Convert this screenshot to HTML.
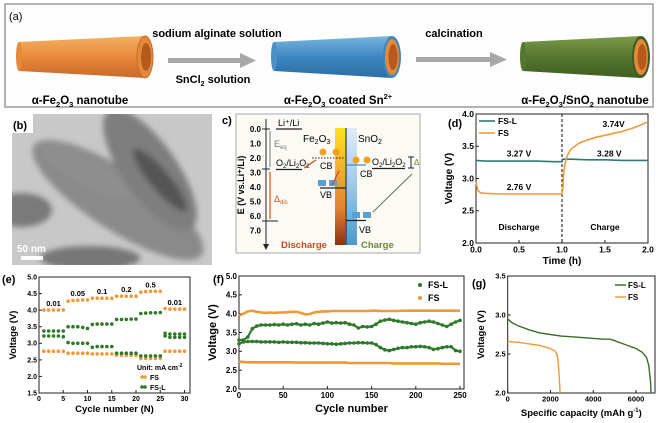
<!DOCTYPE html>
<html><head><meta charset="utf-8"><style>
html,body{margin:0;padding:0;background:#fff;}
svg{display:block;font-family:"Liberation Sans",Arial,sans-serif;}
</style></head><body>
<svg id="fig" width="659" height="423" viewBox="0 0 659 423" xmlns="http://www.w3.org/2000/svg">
<defs>
<linearGradient id="gOr" x1="0" y1="0" x2="0" y2="1"><stop offset="0" stop-color="#f4b060"/><stop offset="0.5" stop-color="#e98a3c"/><stop offset="1" stop-color="#c9692a"/></linearGradient>
<linearGradient id="gBl" x1="0" y1="0" x2="0" y2="1"><stop offset="0" stop-color="#79b6e0"/><stop offset="0.5" stop-color="#3d86c0"/><stop offset="1" stop-color="#2a6ea5"/></linearGradient>
<linearGradient id="gGr" x1="0" y1="0" x2="0" y2="1"><stop offset="0" stop-color="#7a9b4a"/><stop offset="0.5" stop-color="#55762e"/><stop offset="1" stop-color="#3f5e22"/></linearGradient>
<linearGradient id="gFe" x1="0" y1="0" x2="0" y2="1"><stop offset="0" stop-color="#ffe21a"/><stop offset="0.3" stop-color="#f5b530"/><stop offset="0.7" stop-color="#e08030"/><stop offset="1" stop-color="#8a3010"/></linearGradient>
<linearGradient id="gSn" x1="0" y1="0" x2="0" y2="1"><stop offset="0" stop-color="#e2eef5"/><stop offset="0.5" stop-color="#9cc8e4"/><stop offset="1" stop-color="#4d97cc"/></linearGradient>
<filter id="blur"><feGaussianBlur stdDeviation="3"/></filter>
</defs>

<!-- Panel a -->
<g>
<rect x="5" y="4" width="648" height="103" fill="#fdfdfd" stroke="#9a9a9a" stroke-width="1.5"/>
<text x="9" y="20" font-size="11" fill="#000">(a)</text>
<g>
<path d="M19,42 L145,36 L145,78 L19,71 Z" fill="url(#gOr)"/>
<ellipse cx="19" cy="56.5" rx="3" ry="14.5" fill="#e48a3a"/>
<ellipse cx="145" cy="57" rx="8" ry="21" fill="#e28a3a" stroke="#c86a25"/>
<ellipse cx="146" cy="57" rx="5" ry="14" fill="#b65a1c"/>
</g>
<g><rect x="168" y="58" width="72" height="5" fill="#a8a8a8"/><polygon points="240,53 256,60.5 240,68" fill="#a8a8a8"/></g>
<text x="217" y="37" font-size="11" font-weight="bold" text-anchor="middle">sodium alginate solution</text>
<text x="213" y="83" font-size="11" font-weight="bold" text-anchor="middle">SnCl<tspan font-size="7" dy="3">2</tspan><tspan dy="-3"> solution</tspan></text>
<g>
<path d="M274,42 L392,36 L392,78 L274,71 Z" fill="url(#gBl)"/>
<ellipse cx="274" cy="56.5" rx="3" ry="14.5" fill="#4b8fc4"/>
<ellipse cx="392" cy="57" rx="9" ry="21" fill="#3f86be"/>
<ellipse cx="392" cy="57" rx="7" ry="18" fill="#e58a3a"/>
<ellipse cx="393" cy="57" rx="4.5" ry="13" fill="#b65a1c"/>
</g>
<g><rect x="416" y="57" width="75" height="5" fill="#a8a8a8"/><polygon points="490,52 507,59.5 490,67" fill="#a8a8a8"/></g>
<text x="454" y="37" font-size="11" font-weight="bold" text-anchor="middle">calcination</text>
<g>
<path d="M523,42 L641,36 L641,78 L523,71 Z" fill="url(#gGr)"/>
<ellipse cx="523" cy="56.5" rx="3" ry="14.5" fill="#55762e"/>
<ellipse cx="641" cy="57" rx="9" ry="21" fill="#3e5e20"/>
<ellipse cx="641" cy="57" rx="7" ry="18" fill="#e58a3a"/>
<ellipse cx="642" cy="57" rx="4.5" ry="13" fill="#b65a1c"/>
</g>
<text x="80" y="104" font-size="11.5" font-weight="bold" text-anchor="middle">α-Fe<tspan font-size="7.5" dy="3">2</tspan><tspan dy="-3">O</tspan><tspan font-size="7.5" dy="3">3</tspan><tspan dy="-3"> nanotube</tspan></text>
<text x="338" y="104" font-size="11.5" font-weight="bold" text-anchor="middle">α-Fe<tspan font-size="7.5" dy="3">2</tspan><tspan dy="-3">O</tspan><tspan font-size="7.5" dy="3">3</tspan><tspan dy="-3"> coated Sn</tspan><tspan font-size="7.5" dy="-5">2+</tspan></text>
<text x="585" y="104" font-size="11.5" font-weight="bold" text-anchor="middle">α-Fe<tspan font-size="7.5" dy="3">2</tspan><tspan dy="-3">O</tspan><tspan font-size="7.5" dy="3">3</tspan><tspan dy="-3">/SnO</tspan><tspan font-size="7.5" dy="3">2</tspan><tspan dy="-3"> nanotube</tspan></text>
</g>

<!-- Panel b TEM -->
<g>
<clipPath id="clipB"><rect x="12" y="114" width="200" height="151"/></clipPath>
<rect x="12" y="114" width="200" height="151" fill="#c8c8c8"/>
<g clip-path="url(#clipB)" filter="url(#blur)">
<ellipse cx="118" cy="200" rx="100" ry="30" fill="#8a8a8a" transform="rotate(33 118 200)"/>
<ellipse cx="150" cy="170" rx="72" ry="27" fill="#7e7e7e" transform="rotate(55 150 170)"/>
<ellipse cx="160" cy="180" rx="40" ry="10" fill="#555" transform="rotate(50 160 180)"/>
<ellipse cx="22" cy="210" rx="30" ry="17" fill="#7a7a7a"/>
<ellipse cx="90" cy="258" rx="50" ry="12" fill="#777"/>
<ellipse cx="85" cy="170" rx="50" ry="14" fill="#8e8e8e" transform="rotate(30 85 170)"/>
</g>
<rect x="12" y="114" width="21" height="19" fill="#fff"/>
<text x="13" y="129" font-size="11" font-weight="bold">(b)</text>
<text x="17" y="252" font-size="10" font-weight="bold" fill="#fff">50 nm</text>
<rect x="21" y="256" width="22" height="4" fill="#fff"/>
</g>

<!-- Panel c band diagram -->
<g font-size="9">
<rect x="236" y="114" width="184" height="139" fill="#fbfaf5" stroke="#aaa"/>
<text x="222" y="124" font-size="11" font-weight="bold">c)</text>
<line x1="266" y1="119" x2="266" y2="246" stroke="#222" stroke-width="1"/>
<polygon points="263,244 266,250 269,244" fill="#222"/>
<g font-size="8" font-weight="bold" text-anchor="end">
<text x="261" y="132">0.0</text><text x="261" y="146.5">1.0</text><text x="261" y="161">2.0</text><text x="261" y="175.5">3.0</text><text x="261" y="190">4.0</text><text x="261" y="204.5">5.0</text><text x="261" y="219">6.0</text><text x="261" y="233.5">7.0</text>
</g>
<g stroke="#222"><line x1="262" y1="129" x2="270" y2="129"/><line x1="262" y1="169" x2="270" y2="169"/><line x1="262" y1="221" x2="278" y2="221"/></g>
<text x="244" y="185" font-size="9" font-weight="bold" transform="rotate(-90 244 185)" text-anchor="middle">E (V vs.Li⁺/Li)</text>
<line x1="270" y1="131" x2="270" y2="167" stroke="#777"/>
<line x1="270" y1="172" x2="270" y2="219" stroke="#d0581c" stroke-width="1.2"/>
<text x="274" y="147" fill="#777" font-size="9">E<tspan font-size="6" dy="2">eq</tspan></text>
<text x="274" y="202" fill="#d0581c" font-size="9">Δ<tspan font-size="6" dy="2">dis</tspan></text>
<line x1="276" y1="129" x2="302" y2="129" stroke="#222" stroke-width="1.3"/>
<text x="278" y="126">Li⁺/Li</text>
<line x1="276" y1="169.5" x2="302" y2="169.5" stroke="#222" stroke-width="1.3"/>
<text x="276" y="166">O<tspan font-size="6" dy="2">2</tspan><tspan dy="-2">/Li</tspan><tspan font-size="6" dy="2">2</tspan><tspan dy="-2">O</tspan><tspan font-size="6" dy="2">2</tspan></text>
<text x="303" y="142" font-size="10">Fe<tspan font-size="7" dy="2">2</tspan><tspan dy="-2">O</tspan><tspan font-size="7" dy="2">3</tspan></text>
<text x="358" y="142" font-size="10">SnO<tspan font-size="7" dy="2">2</tspan></text>
<rect x="335" y="128" width="10" height="117" fill="url(#gFe)"/>
<rect x="345" y="128" width="12" height="117" fill="url(#gSn)"/>
<line x1="346" y1="128" x2="346" y2="245" stroke="#333" stroke-width="1.2"/>
<line x1="312" y1="158" x2="345" y2="158" stroke="#222" stroke-dasharray="1.5,1.5"/>
<text x="320" y="169" font-size="9">CB</text>
<circle cx="323" cy="152" r="3.5" fill="#f0a020"/><circle cx="336" cy="152" r="3.5" fill="#f0a020"/>
<line x1="320" y1="188" x2="346" y2="188" stroke="#222" stroke-width="1.3"/>
<text x="320" y="198" font-size="9">VB</text>
<rect x="318" y="180" width="8" height="6" fill="#5aa0d0"/><rect x="329" y="180" width="8" height="6" fill="#5aa0d0"/>
<line x1="346" y1="165" x2="366" y2="165" stroke="#4a8ab8" stroke-width="1.3"/>
<text x="360" y="177" font-size="9">CB</text>
<circle cx="356" cy="160" r="3.5" fill="#f0a020"/><circle cx="367" cy="160" r="3.5" fill="#f0a020"/>
<line x1="346" y1="220.5" x2="366" y2="220.5" stroke="#222" stroke-width="1.3"/>
<text x="359" y="233" font-size="9">VB</text>
<rect x="352" y="212" width="8" height="6" fill="#5aa0d0"/><rect x="363" y="212" width="8" height="6" fill="#5aa0d0"/>
<line x1="372" y1="168.5" x2="405" y2="168.5" stroke="#222" stroke-width="1.3"/>
<text x="372" y="165">O<tspan font-size="6" dy="2">2</tspan><tspan dy="-2">/Li</tspan><tspan font-size="6" dy="2">2</tspan><tspan dy="-2">O</tspan><tspan font-size="6" dy="2">2</tspan></text>
<line x1="411" y1="157" x2="411" y2="168" stroke="#222"/>
<line x1="408" y1="157" x2="414" y2="157" stroke="#222"/><line x1="408" y1="168" x2="414" y2="168" stroke="#222"/>
<text x="414" y="165" fill="#6a8a3a" font-size="8">Δ</text>
<line x1="412" y1="174" x2="373" y2="212" stroke="#6a7050"/>
<line x1="316" y1="160" x2="304" y2="168" stroke="#c8501c" stroke-width="1.3"/>
<line x1="339" y1="171" x2="332" y2="185" stroke="#c8501c" stroke-width="1.3"/>
<text x="281" y="248" font-size="9.5" font-weight="bold" fill="#c0501e">Discharge</text>
<text x="361" y="248" font-size="9.5" font-weight="bold" fill="#6a8a3a">Charge</text>
</g>

<g id="charts"></g>
</svg>
<script>
// ---------- data ----------
// (d) voltage vs time
const dFSLTime = [0, 0.1, 0.3, 0.5, 0.7, 0.9, 1.0, 1.01, 1.1, 1.3, 1.5, 1.7, 1.9, 2.0];
const dFSLVolt = [3.28, 3.27, 3.27, 3.27, 3.27, 3.26, 3.26, 3.30, 3.30, 3.29, 3.29, 3.28, 3.28, 3.28];
const dFSTime = [0, 0.02, 0.05, 0.1, 0.3, 0.5, 0.7, 0.9, 1.0, 1.01, 1.02, 1.04, 1.06, 1.1, 1.2, 1.3, 1.4, 1.5, 1.6, 1.7, 1.8, 1.9, 2.0];
const dFSVolt = [2.95, 2.82, 2.78, 2.77, 2.76, 2.76, 2.76, 2.76, 2.76, 2.85, 3.1, 3.25, 3.35, 3.45, 3.55, 3.6, 3.64, 3.67, 3.7, 3.73, 3.77, 3.82, 3.88];
const dXTicks = [0, 0.5, 1.0, 1.5, 2.0];
const dYTicks = [2.0, 2.5, 3.0, 3.5, 4.0];
// (e) rate capability
const eCycles = [1,2,3,4,5,6,7,8,9,10,11,12,13,14,15,16,17,18,19,20,21,22,23,24,25,26,27,28,29,30];
const eFSCharge = [4.0,4.0,4.0,4.0,4.0,4.27,4.29,4.3,4.31,4.31,4.36,4.36,4.36,4.36,4.36,4.42,4.42,4.42,4.42,4.42,4.54,4.56,4.57,4.57,4.57,4.05,4.03,4.03,4.03,4.03];
const eFSDischarge = [2.76,2.76,2.76,2.76,2.76,2.7,2.7,2.7,2.7,2.7,2.68,2.68,2.68,2.68,2.68,2.64,2.64,2.64,2.64,2.64,2.54,2.54,2.54,2.54,2.54,2.76,2.76,2.76,2.76,2.76];
const eFSLCharge = [3.37,3.37,3.37,3.37,3.37,3.5,3.5,3.5,3.48,3.45,3.57,3.58,3.58,3.58,3.58,3.72,3.72,3.72,3.73,3.73,3.9,3.91,3.92,3.92,3.93,3.3,3.28,3.28,3.28,3.28];
const eFSLDischarge = [3.22,3.22,3.22,3.22,3.2,3.02,3.0,3.0,3.0,3.0,2.88,2.9,2.9,2.9,2.9,2.7,2.7,2.7,2.7,2.7,2.62,2.62,2.62,2.62,2.62,3.22,3.18,3.18,3.18,3.18];
const eRates = ["0.01","0.05","0.1","0.2","0.5","0.01"];
const eRateX = [3, 8, 13, 18, 23, 28];
const eRateY = [4.12, 4.42, 4.49, 4.55, 4.68, 4.16];
const eXTicks = [0,5,10,15,20,25,30];
const eYTicks = [1.5,2.0,2.5,3.0,3.5,4.0,4.5,5.0];
// (f) cycling (every 5 cycles)
const fCycles = [0,5,10,15,20,25,30,35,40,45,50,55,60,65,70,75,80,85,90,95,100,105,110,115,120,125,130,135,140,145,150,155,160,165,170,175,180,185,190,195,200,205,210,215,220,225,230,235,240,245,250];
const fFSCharge = [3.95,4.0,4.06,4.08,4.05,4.03,4.02,4.03,4.02,4.03,4.03,4.04,4.05,4.05,4.02,3.98,3.99,4.03,4.05,4.06,4.06,4.07,4.07,4.07,4.07,4.07,4.07,4.07,4.07,4.07,4.08,4.08,4.07,4.07,4.07,4.07,4.07,4.08,4.08,4.08,4.08,4.08,4.08,4.08,4.08,4.08,4.08,4.08,4.08,4.08,4.08];
const fFSDischarge = [2.73,2.72,2.71,2.71,2.71,2.71,2.71,2.71,2.71,2.71,2.71,2.71,2.71,2.7,2.7,2.7,2.7,2.7,2.7,2.7,2.7,2.7,2.7,2.7,2.7,2.69,2.69,2.69,2.69,2.69,2.69,2.69,2.69,2.69,2.69,2.68,2.68,2.68,2.68,2.68,2.68,2.68,2.68,2.68,2.68,2.68,2.67,2.67,2.67,2.67,2.67];
const fFSLCharge = [3.3,3.3,3.38,3.6,3.67,3.7,3.7,3.7,3.71,3.7,3.72,3.7,3.72,3.73,3.7,3.72,3.7,3.74,3.72,3.75,3.78,3.75,3.76,3.75,3.76,3.72,3.7,3.62,3.66,3.65,3.66,3.72,3.8,3.83,3.85,3.82,3.8,3.78,3.76,3.74,3.72,3.76,3.78,3.8,3.78,3.74,3.7,3.66,3.72,3.78,3.82];
const fFSLDischarge = [3.2,3.25,3.26,3.26,3.26,3.25,3.25,3.25,3.25,3.24,3.25,3.24,3.24,3.24,3.23,3.23,3.22,3.22,3.22,3.21,3.2,3.2,3.19,3.2,3.21,3.22,3.22,3.23,3.23,3.22,3.22,3.18,3.1,3.04,3.02,3.05,3.08,3.1,3.1,3.12,3.12,3.13,3.12,3.1,3.05,3.07,3.1,3.12,3.12,3.02,3.0];
const fXTicks = [0,50,100,150,200,250];
const fYTicks = [2.0,2.5,3.0,3.5,4.0,4.5,5.0];
// (g) discharge capacity
const gFSLCap = [0,200,500,1000,1500,2000,2500,3000,3500,4000,4500,4800,5000,5500,6000,6300,6500,6600,6680,6700];
const gFSLVolt = [2.95,2.9,2.86,2.81,2.77,2.75,2.73,2.72,2.71,2.7,2.69,2.69,2.67,2.62,2.57,2.52,2.45,2.35,2.15,2.0];
const gFSCap = [0,500,1000,1500,2000,2200,2300,2350,2400,2430,2450];
const gFSVolt = [2.66,2.65,2.63,2.61,2.57,2.54,2.5,2.42,2.25,2.1,2.0];
const gXTicks = [0,2000,4000,6000];
const gYTicks = [2.0,2.5,3.0,3.5];

const ORANGE = '#ef9a3a', GREEN = '#2e7a2a', TEAL = '#2f7a78', G2 = '#3a6e28';
const NS = 'http://www.w3.org/2000/svg';
const root = document.getElementById('charts');
function el(tag, attrs, parent) {
  const e = document.createElementNS(NS, tag);
  for (const k in attrs) e.setAttribute(k, attrs[k]);
  (parent || root).appendChild(e);
  return e;
}
function scale(d0, d1, r0, r1) { return v => r0 + (v - d0) * (r1 - r0) / (d1 - d0); }

function axes(g, x0, x1, y0, y1, sx, sy, xt, yt, fmtX, fmtY, xTitle, yTitle, xTitleY, yTitleX, tickFs, titleFs) {
  const box = el('rect', {x: x0, y: y0, width: x1 - x0, height: y1 - y0, fill: 'none', stroke: '#222', 'stroke-width': 1}, g);
  
  
  xt.forEach(v => {
    const x = sx(v);
    el('line', {x1: x, x2: x, y1: y1, y2: y1 - 3, stroke: '#222'}, g);
    const t = el('text', {x: x, y: y1 + tickFs + 1, 'font-size': tickFs, 'font-weight': 'bold', 'text-anchor': 'middle'}, g);
    
    
    t.textContent = fmtX(v);
  });
  yt.forEach(v => {
    const y = sy(v);
    el('line', {x1: x0, x2: x0 + 3, y1: y, y2: y, stroke: '#222'}, g);
    const t = el('text', {x: x0 - 2, y: y + tickFs * 0.35, 'font-size': tickFs, 'font-weight': 'bold', 'text-anchor': 'end'}, g);
    
    
    t.textContent = fmtY(v);
  });
  const xt2 = el('text', {x: (x0 + x1) / 2, y: xTitleY, 'font-size': titleFs, 'font-weight': 'bold', 'text-anchor': 'middle'}, g);
  
  
  xt2.innerHTML = xTitle;
  const cy = (y0 + y1) / 2;
  const yt2 = el('text', {x: yTitleX, y: cy, 'font-size': titleFs, 'font-weight': 'bold', 'text-anchor': 'middle', transform: 'rotate(-90 ' + yTitleX + ' ' + cy + ')'}, g);
  
  
  yt2.textContent = yTitle;
}
function line(g, xs, ys, sx, sy, color, w, name) {
  const p = el('polyline', {points: xs.map((x, i) => sx(x).toFixed(1) + ',' + sy(ys[i]).toFixed(1)).join(' '), fill: 'none', stroke: color, 'stroke-width': w}, g);
  
  
  return p;
}
function dots(g, xs, ys, sx, sy, color, r, name) {
  const gg = el('g', {fill: color}, g);
  
  
  xs.forEach((x, i) => { el('circle', {cx: sx(x).toFixed(1), cy: sy(ys[i]).toFixed(1), r: r}, gg); });
}
function label(g, x, y, txt, fs, fill, anchor, name) {
  const t = el('text', {x: x, y: y, 'font-size': fs, 'font-weight': 'bold', fill: fill || '#000', 'text-anchor': anchor || 'start'}, g);
  
  
  t.innerHTML = txt;
  return t;
}
const f1 = v => v.toFixed(1);

// ---------- (d) ----------
(function () {
  const g = el('g', {});
  
  
  const x0 = 476, x1 = 648, y0 = 114, y1 = 243;
  const sx = scale(0, 2, x0, x1), sy = scale(2, 4, y1, y0);
  axes(g, x0, x1, y0, y1, sx, sy, dXTicks, dYTicks, f1, f1, 'Time (h)', 'Voltage (V)', 264, 452, 8.5, 10);
  label(g, 448, 127, '(d)', 11, '#000', 'start', 'panel-label-d');
  const dl = el('line', {x1: sx(1), x2: sx(1), y1: y0, y2: y1, stroke: '#333', 'stroke-dasharray': '3,2', 'stroke-width': 1.2}, g);
  
  
  line(g, dFSLTime, dFSLVolt, sx, sy, TEAL, 1.6, 'series-fs-l');
  line(g, dFSTime, dFSVolt, sx, sy, ORANGE, 1.6, 'series-fs');
  label(g, sx(0.5), sy(3.34), '3.27 V', 8.5, '#000', 'middle', 'annot-327');
  label(g, sx(0.5), sy(2.82), '2.76 V', 8.5, '#000', 'middle', 'annot-276');
  label(g, sx(1.6), sy(3.8), '3.74V', 8.5, '#000', 'middle', 'annot-374');
  label(g, sx(1.55), sy(3.34), '3.28 V', 8.5, '#000', 'middle', 'annot-328');
  label(g, sx(0.5), sy(2.2), 'Discharge', 8.5, '#000', 'middle', 'discharge-text');
  label(g, sx(1.5), sy(2.2), 'Charge', 8.5, '#000', 'middle', 'charge-text');
  el('line', {x1: 479, x2: 495, y1: 121, y2: 121, stroke: TEAL, 'stroke-width': 1.6}, g);
  label(g, 498, 124, 'FS-L', 8.5, '#000', 'start', 'legend-fs-l');
  el('line', {x1: 479, x2: 495, y1: 133, y2: 133, stroke: ORANGE, 'stroke-width': 1.6}, g);
  label(g, 498, 136, 'FS', 8.5, '#000', 'start', 'legend-fs');
})();

// ---------- (e) ----------
(function () {
  const g = el('g', {});
  
  
  const x0 = 39, x1 = 190, y0 = 277, y1 = 393;
  const sx = scale(0, 30, x0, 184.5), sy = scale(1.5, 5, y1, y0);
  axes(g, x0, x1, y0, y1, sx, sy, eXTicks, eYTicks, v => String(v), f1, 'Cycle number (N)', 'Voltage (V)', 412, 16, 7, 9.5);
  label(g, 2, 283, '(e)', 11, '#000', 'start', 'panel-label-e');
  dots(g, eCycles, eFSCharge, sx, sy, ORANGE, 1.8, 'fs-charge-points');
  dots(g, eCycles, eFSDischarge, sx, sy, ORANGE, 1.8, 'fs-discharge-points');
  dots(g, eCycles, eFSLCharge, sx, sy, GREEN, 1.8, 'fs-l-charge-points');
  dots(g, eCycles, eFSLDischarge, sx, sy, GREEN, 1.8, 'fs-l-discharge-points');
  eRates.forEach((r, i) => { label(g, sx(eRateX[i]), sy(eRateY[i]), r, 7.5, '#000', 'middle', 'rate-label'); });
  label(g, 137, 370, 'Unit: mA cm<tspan font-size="5" dy="-3">-2</tspan>', 7, '#000', 'start', 'unit-label');
  el('circle', {cx: 142, cy: 377, r: 1.8, fill: ORANGE}, g);
  el('circle', {cx: 145, cy: 377, r: 1.8, fill: ORANGE}, g);
  label(g, 150, 380, 'FS', 7, '#000', 'start', 'legend-fs');
  el('circle', {cx: 142, cy: 387, r: 1.8, fill: GREEN}, g);
  el('circle', {cx: 145, cy: 387, r: 1.8, fill: GREEN}, g);
  label(g, 150, 390, 'FS-L', 7, '#000', 'start', 'legend-fs-l');
})();

// ---------- (f) ----------
(function () {
  const g = el('g', {});
  
  
  const x0 = 239, x1 = 464, y0 = 276, y1 = 389;
  const sx = scale(0, 250, x0, 460), sy = scale(2, 5, y1, y0);
  axes(g, x0, x1, y0, y1, sx, sy, fXTicks, fYTicks, v => String(v), f1, 'Cycle number', 'Voltage (V)', 412, 216, 8, 11);
  label(g, 213, 283, '(f)', 11, '#000', 'start', 'panel-label-f');
  line(g, fCycles, fFSCharge, sx, sy, ORANGE, 2.6, 'fs-charge-series');
  line(g, fCycles, fFSDischarge, sx, sy, ORANGE, 2.6, 'fs-discharge-series');
  line(g, fCycles, fFSLCharge, sx, sy, GREEN, 2.2, 'fs-l-charge-series');
  line(g, fCycles, fFSLDischarge, sx, sy, GREEN, 2.2, 'fs-l-discharge-series');
  dots(g, fCycles, fFSLCharge, sx, sy, GREEN, 1.8, 'fs-l-charge-points');
  dots(g, fCycles, fFSLDischarge, sx, sy, GREEN, 1.8, 'fs-l-discharge-points');
  el('circle', {cx: 420, cy: 285, r: 2, fill: GREEN}, g);
  label(g, 428, 288, 'FS-L', 9, '#000', 'start', 'legend-fs-l');
  el('circle', {cx: 420, cy: 298, r: 2, fill: ORANGE}, g);
  label(g, 428, 301, 'FS', 9, '#000', 'start', 'legend-fs');
})();

// ---------- (g) ----------
(function () {
  const g = el('g', {});
  
  
  const x0 = 507.7, x1 = 655, y0 = 276, y1 = 393;
  const sx = scale(0, 6000, x0, 636), sy = scale(2, 3.5, y1, y0);
  axes(g, x0, x1, y0, y1, sx, sy, gXTicks, gYTicks, v => String(v), f1, 'Specific capacity (mAh g<tspan font-size="6" dy="-4">-1</tspan><tspan dy="4">)</tspan>', 'Voltage (V)', 416, 484, 7.5, 9.5);
  label(g, 472, 287, '(g)', 11, '#000', 'start', 'panel-label-g');
  line(g, gFSLCap, gFSLVolt, sx, sy, G2, 1.4, 'fs-l-series');
  line(g, gFSCap, gFSVolt, sx, sy, ORANGE, 1.4, 'fs-series');
  el('line', {x1: 615, x2: 626, y1: 285, y2: 285, stroke: G2, 'stroke-width': 1.5}, g);
  label(g, 628, 288, 'FS-L', 8, '#000', 'start', 'legend-fs-l');
  el('line', {x1: 615, x2: 626, y1: 297, y2: 297, stroke: ORANGE, 'stroke-width': 1.5}, g);
  label(g, 628, 300, 'FS', 8, '#000', 'start', 'legend-fs');
})();
</script>
</body></html>
